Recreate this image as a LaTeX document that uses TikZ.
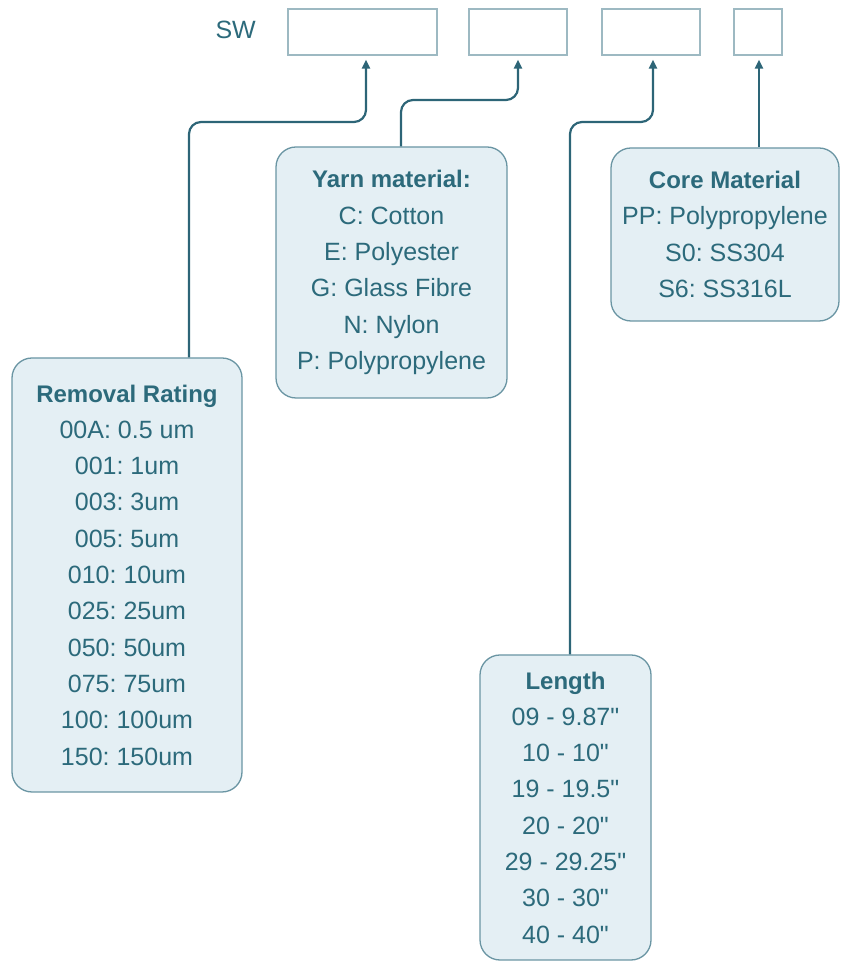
\documentclass[tikz,border=0pt]{standalone}
\usepackage{fontspec}
\setmainfont{Liberation Sans}[Ligatures=TeXOff]
\usetikzlibrary{arrows.meta,calc}
\definecolor{txt}{HTML}{2C6A7B}
\definecolor{lin}{HTML}{2D6577}
\definecolor{bfill}{HTML}{E4EFF4}
\definecolor{bdraw}{HTML}{6A95A3}
\definecolor{slot}{HTML}{9DB9C2}
\newcommand\boxtitle[1]{{\bfseries\fontsize{24}{36.3}\selectfont #1}}
\frenchspacing
\begin{document}
\begin{tikzpicture}[x=1pt,y=1pt,
  slotbox/.style={draw=slot, line width=1.2pt, minimum height=46pt, inner sep=0pt},
  infobox/.style={draw=bdraw, fill=bfill, line width=1.3pt, rounded corners=20pt,
    align=center, text=txt, inner sep=0pt, font=\fontsize{25}{36.3}\selectfont\frenchspacing},
  conn/.style={draw=lin, line width=2.2pt, rounded corners=12pt,
    -{Triangle[length=9pt,width=8pt]}}]
\useasboundingbox (0,0) rectangle (842,965);
% slots
\node[slotbox, minimum width=149pt] (b1) at (362.5,933) {};
\node[slotbox, minimum width=98pt] (b2) at (518,933) {};
\node[slotbox, minimum width=98pt] (b3) at (651,933) {};
\node[slotbox, minimum width=48pt] (b4) at (758,933) {};
\node[text=txt, font=\fontsize{25}{30}\selectfont, anchor=east, inner sep=0pt] (sw) at (256,935) {SW};
% info boxes
\node[infobox, minimum width=230pt, minimum height=434pt] (rem) at (127,390) {%
\boxtitle{Removal Rating}\\
00A: 0.5 um\\ 001: 1um\\ 003: 3um\\ 005: 5um\\ 010: 10um\\ 025: 25um\\
050: 50um\\ 075: 75um\\ 100: 100um\\ 150: 150um};
\node[infobox, minimum width=231pt, minimum height=251pt] (yarn) at (391.5,692.5) {%
\boxtitle{Yarn material:}\\
C: Cotton\\ E: Polyester\\ G: Glass Fibre\\ N: Nylon\\ P: Polypropylene};
\node[infobox, minimum width=228pt, minimum height=173pt] (core) at (725,730.5) {%
\boxtitle{Core Material}\\
PP: Polypropylene\\ S0: SS304\\ S6: SS316L};
\node[infobox, minimum width=171pt, minimum height=305pt] (len) at (565.5,157.5) {%
\boxtitle{Length}\\
09 - 9.87"\\ 10 - 10"\\ 19 - 19.5"\\ 20 - 20"\\ 29 - 29.25"\\ 30 - 30"\\ 40 - 40"};
% bends
\coordinate (k1) at (366,843);
\coordinate (k2) at (518,865);
\coordinate (k3) at (653,843);
% connectors
\draw[conn] ([xshift=62pt]rem.north) |- (k1) -- ($(b1.south)+(3.5,-4)$);
\draw[conn] ([xshift=9.5pt]yarn.north) |- (k2) -- ($(b2.south)+(0,-4)$);
\draw[conn] ([xshift=4.5pt]len.north) |- (k3) -- ($(b3.south)+(2,-4)$);
\draw[conn] ([xshift=34pt]core.north) -- ($(b4.south)+(1,-4)$);
\end{tikzpicture}
\end{document}
